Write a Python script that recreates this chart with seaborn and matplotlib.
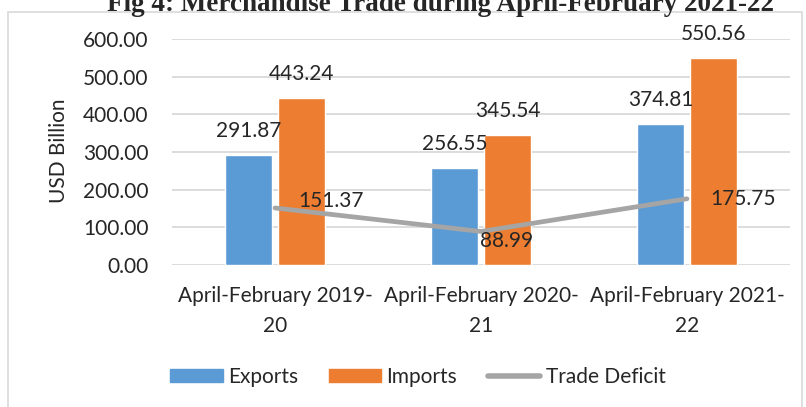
import matplotlib
matplotlib.use("Agg")
import matplotlib.pyplot as plt
import seaborn as sns
import pandas as pd
from matplotlib.patches import Patch, Rectangle
from matplotlib.lines import Line2D

periods = ["April-February 2019-\n20", "April-February 2020-\n21", "April-February 2021-\n22"]
exports = [291.87, 256.55, 374.81]
imports = [443.24, 345.54, 550.56]
deficit = [151.37, 88.99, 175.75]
yticks = [0, 100, 200, 300, 400, 500, 600]

sns.set_theme(style="white")
plt.rcParams['font.family'] = ['Lato', 'DejaVu Sans']

FS = 15
C_EXP = "#5B9BD5"
C_IMP = "#ED7D31"
C_DEF = "#A5A5A5"

bars = pd.DataFrame({
    "period": periods * 2,
    "value": exports + imports,
    "series": ["Exports"] * 3 + ["Imports"] * 3,
})
line = pd.DataFrame({"period": periods, "value": deficit})

fig = plt.figure(figsize=(8.06, 4.07), dpi=100)
W, H = 806, 407
ax = fig.add_axes([172 / W, 1 - 265 / H, 618 / W, 226 / H])

# border
fig.patches.append(Rectangle((8 / W, -0.01), (802 - 8) / W, 1 - 12 / H + 0.01,
                             transform=fig.transFigure, fill=False,
                             edgecolor="#D9D9D9", linewidth=1.2, zorder=0))

sns.barplot(data=bars, x="period", y="value", hue="series", order=periods,
            hue_order=["Exports", "Imports"], palette=[C_EXP, C_IMP],
            width=0.515, gap=0.13, saturation=1, ax=ax, legend=False, zorder=3)
sns.pointplot(data=line, x="period", y="value", order=periods, color=C_DEF,
              marker="", linewidth=3.4, ax=ax, zorder=4)

ax.set_ylim(0, 600)
ax.set_xlim(-0.5, 2.5)
ax.set_yticks(yticks)
ax.set_yticklabels([f"{v:.2f}" for v in yticks], fontsize=FS)
ax.set_xticks(range(3))
ax.set_xticklabels(periods, fontsize=FS, linespacing=1.62)
ax.tick_params(axis="y", pad=17, length=0)
ax.tick_params(axis="x", pad=15, length=0)
ax.set_xlabel("")
ax.set_ylabel("")
fig.text(59 / W, 1 - 151 / H, "USD Billion", rotation=90, ha="center", va="center",
         fontsize=FS)
for s in ax.spines.values():
    s.set_visible(False)
ax.grid(axis="y", color="#D9D9D9", linewidth=1.3, zorder=0)
ax.set_axisbelow(True)

# bar labels
for cont in ax.containers:
    ax.bar_label(cont, labels=[f"{b.get_height():.2f}" for b in cont],
                 padding=10, fontsize=FS)

# deficit labels
offsets = [(16.5, 5), (-0.5, -7), (16.5, 0)]
for i, (v, (dx, dy)) in enumerate(zip(deficit, offsets)):
    ax.annotate(f"{v:.2f}", xy=(i, v), xytext=(dx, dy), textcoords="offset points",
                ha="left", va="center", fontsize=FS, zorder=5)

handles = [Patch(color=C_EXP), Patch(color=C_IMP),
           Line2D([], [], color=C_DEF, linewidth=4, solid_capstyle="round")]
fig.legend(handles, ["Exports", "Imports", "Trade Deficit"], loc="center",
           bbox_to_anchor=(418 / W, 1 - 377 / H), ncol=3, frameon=False,
           fontsize=FS, handlelength=2.5, handleheight=0.62, handletextpad=0.25,
           columnspacing=1.5)

fig.text(440 / W, 1 - 11 / H, "Fig 4: Merchandise Trade during April-February 2021-22",
         ha="center", va="baseline", fontsize=19.5, fontweight="bold",
         family="Liberation Serif")

fig.savefig("out.png", dpi=100)
